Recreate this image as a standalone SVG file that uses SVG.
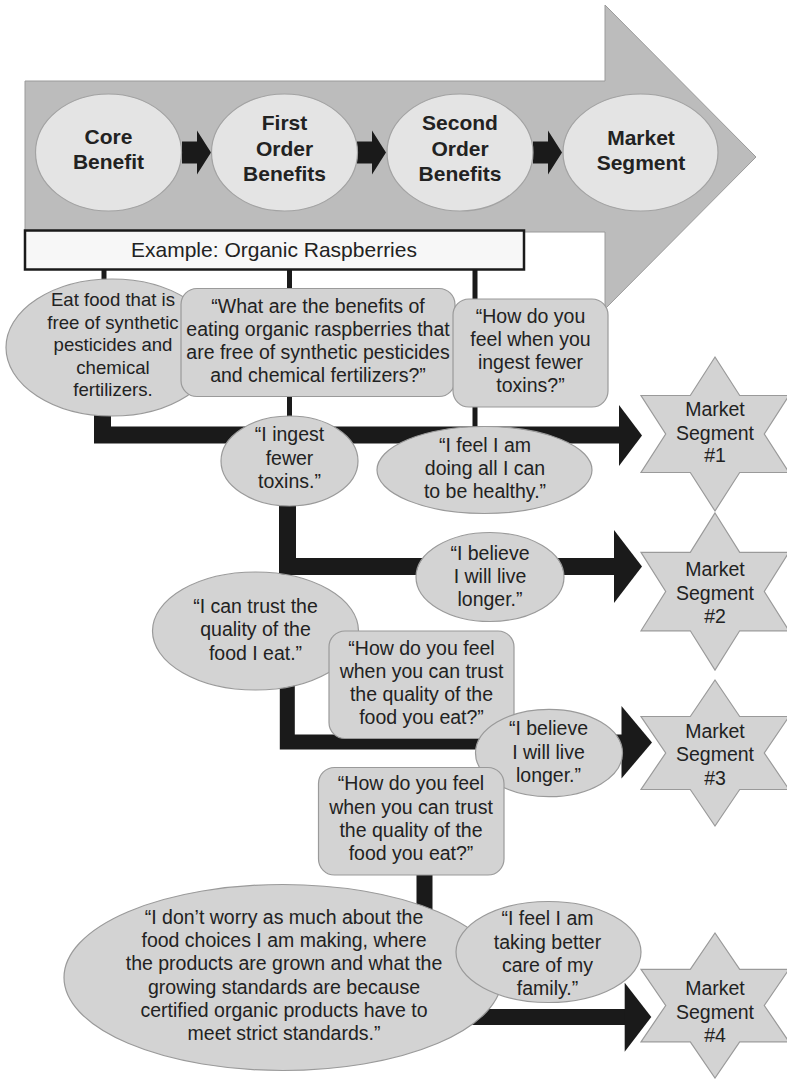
<svg xmlns="http://www.w3.org/2000/svg" xmlns:xlink="http://www.w3.org/1999/xlink" width="787" height="1079" viewBox="0 0 787 1079">
  <style>
    .txt { font-family: "Liberation Sans", Arial, Helvetica, sans-serif; fill: #222; text-anchor: middle; }
    .body { font-size: 19.5px; }
    .head { font-size: 21px; font-weight: bold; }
    .node { fill: #d3d3d3; stroke: #9a9a9a; stroke-width: 1.2; }
    .stage { fill: #e4e4e4; stroke: #a3a3a3; stroke-width: 1.2; }
    .thin { stroke: #1a1a1a; stroke-width: 5; fill: none; }
    .thick { stroke: #1a1a1a; fill: none; stroke-linejoin: miter; }
    .tip { fill: #1a1a1a; }
  </style>
  <defs>
    <polygon id="stepArrow" points="182,141.5 197,141.5 197,130.5 211,152.5 197,174.5 197,163.5 182,163.5" fill="#1a1a1a"/>
  </defs>

  <!-- large process arrow -->
  <g id="process-arrow">
    <polygon points="25,81 605,81 605,5 756,157 605,309 605,232 25,232" fill="#bcbcbc" stroke="#9a9a9a" stroke-width="1"/>
  </g>

  <!-- stage ellipses along the process arrow -->
  <g id="stage-arrows">
    <use xlink:href="#stepArrow"/>
    <use xlink:href="#stepArrow" transform="translate(175,0)"/>
    <use xlink:href="#stepArrow" transform="translate(351,0)"/>
  </g>
  <g id="core-benefit">
    <ellipse class="stage" cx="108.5" cy="152.5" rx="73" ry="58.5"/>
    <text class="txt head" x="108.5" y="144">Core</text>
    <text class="txt head" x="108.5" y="168.5">Benefit</text>
  </g>
  <g id="first-order">
    <ellipse class="stage" cx="284.5" cy="152.5" rx="73" ry="58.5"/>
    <text class="txt head" x="284.5" y="130">First</text>
    <text class="txt head" x="284.5" y="156">Order</text>
    <text class="txt head" x="284.5" y="181">Benefits</text>
  </g>
  <g id="second-order">
    <ellipse class="stage" cx="460" cy="152.5" rx="73" ry="58.5"/>
    <text class="txt head" x="460" y="130">Second</text>
    <text class="txt head" x="460" y="156">Order</text>
    <text class="txt head" x="460" y="181">Benefits</text>
  </g>
  <g id="market-segment">
    <ellipse class="stage" cx="640.5" cy="152.5" rx="77.5" ry="58.5"/>
    <text class="txt head" x="641" y="145">Market</text>
    <text class="txt head" x="641" y="170">Segment</text>
  </g>

  <!-- connectors -->
  <g id="connectors">
    <line class="thin" x1="104" y1="268" x2="104" y2="360"/>
    <line class="thin" x1="289.5" y1="268" x2="289.5" y2="435"/>
    <line class="thin" x1="475" y1="268" x2="475" y2="435"/>
    <path class="thick" stroke-width="17" d="M102.5,380 V435 H621"/>
    <polygon class="tip" points="619,405 642,435.5 619,466"/>
    <path class="thick" stroke-width="17" d="M287.5,435 V566.5 H616"/>
    <polygon class="tip" points="614,530 642,566.5 614,603"/>
    <path class="thick" stroke-width="15" d="M287.3,600 V742 H623"/>
    <polygon class="tip" points="621.5,706 652,742.5 621.5,778.5"/>
    <path class="thick" stroke-width="16" d="M424.5,870 V1017 H627"/>
    <polygon class="tip" points="624.7,982.7 651.3,1017 624.7,1051.7"/>
  </g>

  <g id="example-title">
    <rect x="25" y="230.5" width="499" height="39" fill="#f7f7f7" stroke="#1a1a1a" stroke-width="2.5"/>
    <text class="txt" style="font-size:21px" x="274" y="257">Example: Organic Raspberries</text>
  </g>

  <g id="core-eat-food">
    <ellipse class="node" cx="112" cy="347.5" rx="106" ry="68.5"/>
    <text class="txt" style="font-size:18.6px" x="113" y="306">Eat food that is</text>
    <text class="txt" style="font-size:18.6px" x="113" y="328.5">free of synthetic</text>
    <text class="txt" style="font-size:18.6px" x="113" y="351">pesticides and</text>
    <text class="txt" style="font-size:18.6px" x="113" y="373.5">chemical</text>
    <text class="txt" style="font-size:18.6px" x="113" y="396">fertilizers.</text>
  </g>

  <g id="question-benefits">
    <rect class="node" x="181" y="288.5" width="274" height="108" rx="16"/>
    <text class="txt body" x="318" y="313">“What are the benefits of</text>
    <text class="txt body" x="318" y="336">eating organic raspberries that</text>
    <text class="txt body" x="318" y="359">are free of synthetic pesticides</text>
    <text class="txt body" x="318" y="382">and chemical fertilizers?”</text>
  </g>

  <g id="question-fewer-toxins">
    <rect class="node" x="453" y="299" width="155" height="108" rx="16"/>
    <text class="txt body" x="530.5" y="323">“How do you</text>
    <text class="txt body" x="530.5" y="346">feel when you</text>
    <text class="txt body" x="530.5" y="369">ingest fewer</text>
    <text class="txt body" x="530.5" y="392">toxins?”</text>
  </g>

  <g id="ingest-fewer-toxins">
    <ellipse class="node" cx="289.5" cy="461" rx="68.5" ry="45"/>
    <text class="txt body" x="289.5" y="441">“I ingest</text>
    <text class="txt body" x="289.5" y="465">fewer</text>
    <text class="txt body" x="289.5" y="488">toxins.”</text>
  </g>

  <g id="doing-all-i-can">
    <ellipse class="node" cx="484.5" cy="470" rx="107.5" ry="43.5"/>
    <text class="txt body" x="485" y="452">“I feel I am</text>
    <text class="txt body" x="485" y="475">doing all I can</text>
    <text class="txt body" x="485" y="498">to be healthy.”</text>
  </g>

  <g id="segment-1">
    <polygon class="node" points="715,357 739.7,395.5 789,395.5 764.3,434 789,472.5 739.7,472.5 715,511 690.3,472.5 641,472.5 665.7,434 641,395.5 690.3,395.5"/>
    <text class="txt body" x="715" y="416">Market</text>
    <text class="txt body" x="715" y="440">Segment</text>
    <text class="txt body" x="715" y="462">#1</text>
  </g>

  <g id="live-longer-1">
    <ellipse class="node" cx="490" cy="577" rx="74" ry="44.5"/>
    <text class="txt body" x="490" y="559.5">“I believe</text>
    <text class="txt body" x="490" y="582.5">I will live</text>
    <text class="txt body" x="490" y="605.5">longer.”</text>
  </g>

  <g id="segment-2">
    <polygon class="node" points="715,513 739.7,552.3 789,552.3 764.3,591.5 789,630.8 739.7,630.8 715,670 690.3,630.8 641,630.8 665.7,591.5 641,552.3 690.3,552.3"/>
    <text class="txt body" x="715" y="576">Market</text>
    <text class="txt body" x="715" y="599.5">Segment</text>
    <text class="txt body" x="715" y="622.5">#2</text>
  </g>

  <g id="trust-quality">
    <ellipse class="node" cx="255.5" cy="631" rx="103" ry="59"/>
    <text class="txt body" x="255.5" y="613">“I can trust the</text>
    <text class="txt body" x="255.5" y="636">quality of the</text>
    <text class="txt body" x="255.5" y="659.5">food I eat.”</text>
  </g>

  <g id="question-trust-1">
    <rect class="node" x="329" y="631" width="185" height="107.5" rx="16"/>
    <text class="txt body" x="421.5" y="654.5">“How do you feel</text>
    <text class="txt body" x="421.5" y="677.5">when you can trust</text>
    <text class="txt body" x="421.5" y="700.5">the quality of the</text>
    <text class="txt body" x="421.5" y="723.5">food you eat?”</text>
  </g>

  <g id="live-longer-2">
    <ellipse class="node" cx="549" cy="753" rx="73.5" ry="43.7"/>
    <text class="txt body" x="548.5" y="735">“I believe</text>
    <text class="txt body" x="548.5" y="758.5">I will live</text>
    <text class="txt body" x="548.5" y="781.5">longer.”</text>
  </g>

  <g id="segment-3">
    <polygon class="node" points="715,680 739.7,716.5 789,716.5 764.3,753 789,789.5 739.7,789.5 715,826 690.3,789.5 641,789.5 665.7,753 641,716.5 690.3,716.5"/>
    <text class="txt body" x="715" y="737.5">Market</text>
    <text class="txt body" x="715" y="761">Segment</text>
    <text class="txt body" x="715" y="785">#3</text>
  </g>

  <g id="question-trust-2">
    <rect class="node" x="318.5" y="767.5" width="185.5" height="107.5" rx="16"/>
    <text class="txt body" x="411" y="790">“How do you feel</text>
    <text class="txt body" x="411" y="813.5">when you can trust</text>
    <text class="txt body" x="411" y="836.5">the quality of the</text>
    <text class="txt body" x="411" y="860">food you eat?”</text>
  </g>

  <g id="worry-less">
    <ellipse class="node" cx="283" cy="977.5" rx="219" ry="93"/>
    <text class="txt body" x="284" y="923.5">“I don’t worry as much about the</text>
    <text class="txt body" x="284" y="947">food choices I am making, where</text>
    <text class="txt body" x="284" y="970">the products are grown and what the</text>
    <text class="txt body" x="284" y="993.5">growing standards are because</text>
    <text class="txt body" x="284" y="1017">certified organic products have to</text>
    <text class="txt body" x="284" y="1040">meet strict standards.”</text>
  </g>

  <g id="better-care">
    <ellipse class="node" cx="548.5" cy="952" rx="92.5" ry="50.5"/>
    <text class="txt body" x="547.5" y="925">“I feel I am</text>
    <text class="txt body" x="547.5" y="948.5">taking better</text>
    <text class="txt body" x="547.5" y="971.5">care of my</text>
    <text class="txt body" x="547.5" y="995">family.”</text>
  </g>

  <g id="segment-4">
    <polygon class="node" points="715,933 739.7,969.3 789,969.3 764.3,1005.5 789,1041.8 739.7,1041.8 715,1078 690.3,1041.8 641,1041.8 665.7,1005.5 641,969.3 690.3,969.3"/>
    <text class="txt body" x="715" y="995">Market</text>
    <text class="txt body" x="715" y="1018.5">Segment</text>
    <text class="txt body" x="715" y="1042">#4</text>
  </g>
</svg>
